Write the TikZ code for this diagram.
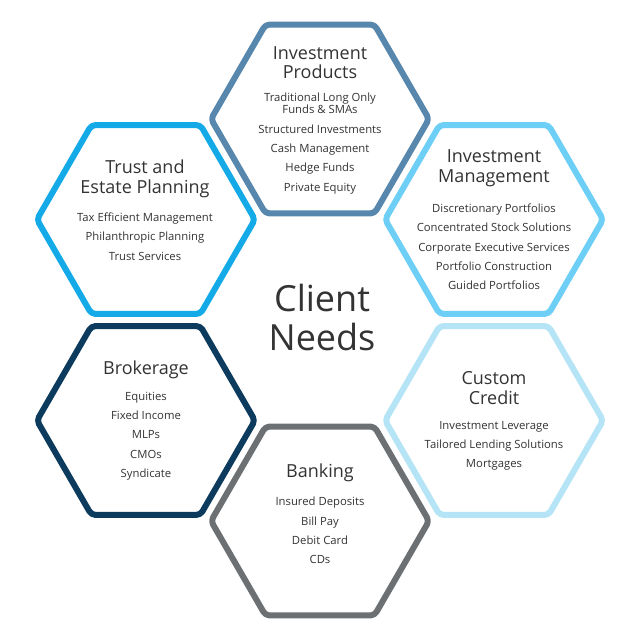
\documentclass[tikz,border=0pt]{standalone}
\usepackage{fontspec}
\setmainfont{Open Sans}
\definecolor{prodblue}{HTML}{5887AE}
\definecolor{trustblue}{HTML}{14AAE8}
\definecolor{mgmtblue}{HTML}{6DCFF6}
\definecolor{brokblue}{HTML}{0D3B5E}
\definecolor{creditblue}{HTML}{B5E4F6}
\definecolor{bankgray}{HTML}{6C7072}
\definecolor{textgray}{HTML}{333333}
\tikzset{
  hexline/.style={line width=6pt, rounded corners=4pt, line join=round},
  headtext/.style={align=center, text=textgray, font=\fontsize{18}{19.5}\selectfont},
  itemtext/.style={align=center, text=textgray, font=\fontsize{11.3}{19.3}\selectfont},
}
\begin{document}
\begin{tikzpicture}[x=1pt,y=1pt]
  \useasboundingbox[fill=white] (-320,-320) rectangle (320,320);
  % six hexagons round the centre
  \foreach \ang/\col in {90/prodblue,150/trustblue,30/mgmtblue,210/brokblue,330/creditblue,270/bankgray}
    \draw[hexline,draw=\col] (\ang:201) ++(-109,0) -- ++(60:109) -- ++(0:109) -- ++(-60:109)
      -- ++(-120:109) -- ++(180:109) -- cycle;
  \node[text=textgray, align=center, font=\fontsize{36}{39}\selectfont] (needs) at (2,2.5) {Client\\Needs};
  % investment products
  \node[headtext] (prodhead) at (0,257.5) {Investment\\Products};
  \node[itemtext] (proditems) at (0,176.5) {Traditional Long Only\\[-7.3pt]Funds \& SMAs\\Structured Investments\\Cash Management\\Hedge Funds\\Private Equity};
  % trust and estate planning
  \node[headtext] (trusthead) at (-175,141) {Trust and\\Estate Planning};
  \node[itemtext] (trustitems) at (-175,83.5) {Tax Efficient Management\\Philanthropic Planning\\Trust Services};
  % investment management
  \node[headtext] (mgmthead) at (174,152) {Investment\\Management};
  \node[itemtext] (mgmtitems) at (174,73) {Discretionary Portfolios\\Concentrated Stock Solutions\\Corporate Executive Services\\Portfolio Construction\\Guided Portfolios};
  % brokerage
  \node[headtext] (brokhead) at (-174,-50) {Brokerage};
  \node[itemtext] (brokitems) at (-174,-116) {Equities\\Fixed Income\\MLPs\\CMOs\\Syndicate};
  % custom credit
  \node[headtext] (credithead) at (174,-68) {Custom\\Credit};
  \node[itemtext] (credititems) at (174,-126) {Investment Leverage\\Tailored Lending Solutions\\Mortgages};
  % banking
  \node[headtext] (bankhead) at (0,-153) {Banking};
  \node[itemtext] (bankitems) at (0,-210.5) {Insured Deposits\\Bill Pay\\Debit Card\\CDs};
\end{tikzpicture}
\end{document}
